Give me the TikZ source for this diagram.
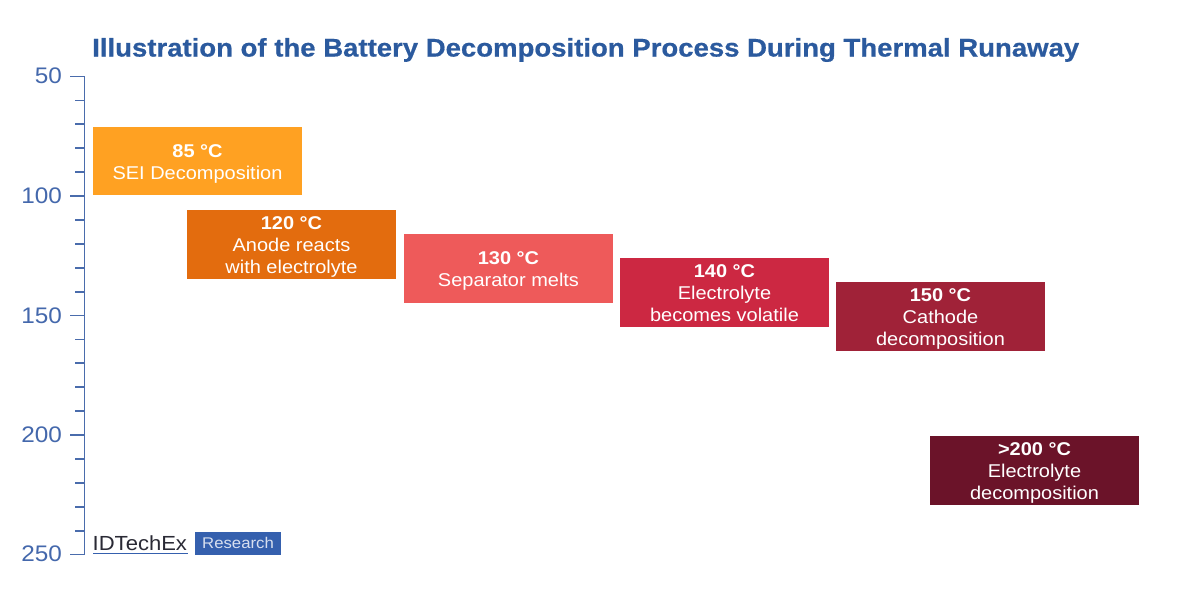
\documentclass[tikz,border=0pt]{standalone}
\usepackage{fontspec}
\setmainfont[FakeStretch=1.08]{Liberation Sans}
\newfontfamily\titlefont[FakeStretch=1.08,FakeBold=0.6]{Liberation Sans Bold}
\definecolor{axisblue}{HTML}{4A6CAC}
\definecolor{titleblue}{HTML}{2B5A9E}
\definecolor{numblue}{HTML}{4468AC}
\definecolor{c1}{HTML}{FFA122}
\definecolor{c2}{HTML}{E36C0E}
\definecolor{c3}{HTML}{EE5A5A}
\definecolor{c4}{HTML}{CC2842}
\definecolor{c5}{HTML}{A02238}
\definecolor{c6}{HTML}{6B1329}
\definecolor{logoblue}{HTML}{3560AE}
\definecolor{logotext}{HTML}{2A2A35}
\tikzset{
  tbox/.style={draw=none,minimum width=209pt,minimum height=68.5pt,inner sep=0pt,align=center,text=white,
    font=\fontsize{18.5}{22}\selectfont},
  axisline/.style={draw=axisblue,line width=1.8pt},
  ticklabel/.style={anchor=east,text=numblue,inner sep=0pt,font=\fontsize{22.5}{23}\selectfont},
}
\newcommand{\tlabel}[2]{\rule{0pt}{19pt}{\bfseries #1}\\#2\rule[-5pt]{0pt}{5pt}}
\begin{document}
\begin{tikzpicture}[x=1pt,y=-1pt]
\useasboundingbox[fill=white] (0,0) rectangle (1200,595);
\node[anchor=west,inner sep=0pt,text=titleblue,font=\fontsize{25.5}{26}\titlefont] (title) at (92,50) {Illustration of the Battery Decomposition Process During Thermal Runaway};
\coordinate (axtop) at (84.5,76.5);
\coordinate (axbot) at (84.5,554.5);
\draw[axisline] (axtop) -- (axbot);
\foreach \i in {0,...,20}{
  \pgfmathsetmacro\yy{76.5+23.9*\i}
  \pgfmathtruncatemacro\mm{mod(\i,5)}
  \ifnum\mm=0
    \draw[axisline] (70,\yy) -- (84.5,\yy);
  \else
    \draw[axisline] (75,\yy) -- (84.5,\yy);
  \fi
}
\node[ticklabel] (t50) at (62,76) {50};
\node[ticklabel] (t100) at (62,196) {100};
\node[ticklabel] (t150) at (62,316) {150};
\node[ticklabel] (t200) at (62,435) {200};
\node[ticklabel] (t250) at (62,554) {250};
\node[tbox,fill=c1] (b1) at (197.5,161) {\tlabel{85 °C}{SEI Decomposition}};
\node[tbox,fill=c2] (b2) at (291.5,244.5) {\tlabel{120 °C}{Anode reacts\\with electrolyte}};
\node[tbox,fill=c3] (b3) at (508.5,268.5) {\tlabel{130 °C}{Separator melts}};
\node[tbox,fill=c4] (b4) at (724.5,292.5) {\tlabel{140 °C}{Electrolyte\\becomes volatile}};
\node[tbox,fill=c5] (b5) at (940.5,316.5) {\tlabel{150 °C}{Cathode\\decomposition}};
\node[tbox,fill=c6] (b6) at (1034.5,470.5) {\tlabel{>200 °C}{Electrolyte\\decomposition}};
\node[anchor=west,inner sep=0pt,text=logotext,font=\fontsize{20.4}{20}\selectfont] (logo) at (92.5,543) {IDTechEx};
\draw[logoblue,line width=1.5pt] (93,553.5) -- (188,553.5);
\node[anchor=center,fill=logoblue,text=white!80!logoblue,minimum width=86pt,minimum height=23pt,inner sep=0pt,font=\fontsize{15.5}{16}\selectfont] (research) at (238,543) {Research};
\end{tikzpicture}
\end{document}
